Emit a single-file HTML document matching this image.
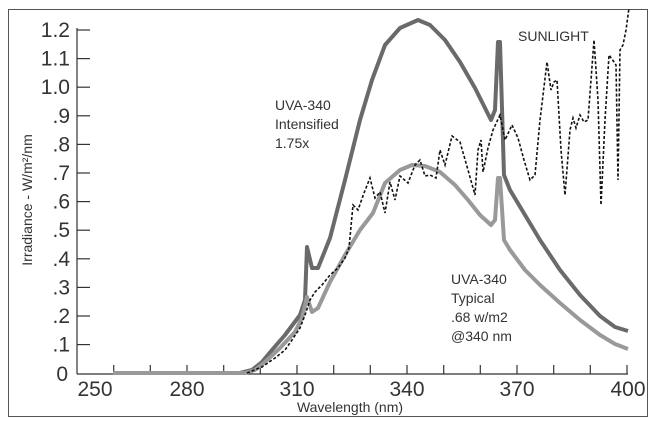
<!DOCTYPE html>
<html><head><style>
html,body{margin:0;padding:0;background:#fff;}
svg{display:block;}
text{font-family:"Liberation Sans",sans-serif;fill:#333;}
</style></head><body>
<svg width="660" height="427" viewBox="0 0 660 427" xmlns="http://www.w3.org/2000/svg">
<rect x="8.5" y="9.5" width="639" height="407" fill="#fff" stroke="#555" stroke-width="1"/>
<g stroke="#333" stroke-width="1.2" fill="none">
<line x1="77" y1="28" x2="77" y2="374"/>
<line x1="77" y1="374" x2="628" y2="374"/>
<line x1="77" y1="30" x2="90" y2="30"/><line x1="77" y1="58.6" x2="90" y2="58.6"/>
<line x1="77" y1="87.2" x2="90" y2="87.2"/><line x1="77" y1="115.8" x2="90" y2="115.8"/>
<line x1="77" y1="144.4" x2="90" y2="144.4"/><line x1="77" y1="173" x2="90" y2="173"/>
<line x1="77" y1="201.6" x2="90" y2="201.6"/><line x1="77" y1="230.2" x2="90" y2="230.2"/>
<line x1="77" y1="258.8" x2="90" y2="258.8"/><line x1="77" y1="287.4" x2="90" y2="287.4"/>
<line x1="77" y1="316" x2="90" y2="316"/><line x1="77" y1="344.6" x2="90" y2="344.6"/>
<line x1="113.7" y1="374" x2="113.7" y2="365"/><line x1="150.3" y1="374" x2="150.3" y2="365"/>
<line x1="187" y1="374" x2="187" y2="365"/><line x1="223.7" y1="374" x2="223.7" y2="365"/>
<line x1="260.3" y1="374" x2="260.3" y2="365"/><line x1="297" y1="374" x2="297" y2="365"/>
<line x1="333.7" y1="374" x2="333.7" y2="365"/><line x1="370.3" y1="374" x2="370.3" y2="365"/>
<line x1="407" y1="374" x2="407" y2="365"/><line x1="443.7" y1="374" x2="443.7" y2="365"/>
<line x1="480.3" y1="374" x2="480.3" y2="365"/><line x1="517" y1="374" x2="517" y2="365"/>
<line x1="553.7" y1="374" x2="553.7" y2="365"/><line x1="590.3" y1="374" x2="590.3" y2="365"/>
<line x1="627" y1="374" x2="627" y2="365"/>
</g>
<g font-size="21" text-anchor="end">
<text x="70" y="37">1.2</text><text x="70" y="65.6">1.1</text><text x="70" y="94.2">1.0</text>
<text x="70" y="122.8">.9</text><text x="70" y="151.4">.8</text><text x="70" y="180">.7</text>
<text x="70" y="208.6">.6</text><text x="70" y="237.2">.5</text><text x="70" y="265.8">.4</text>
<text x="70" y="294.4">.3</text><text x="70" y="323">.2</text><text x="70" y="351.6">.1</text>
<text x="68" y="381">0</text>
</g>
<g font-size="21" text-anchor="middle">
<text x="95" y="396">250</text><text x="187" y="396">280</text><text x="297" y="396">310</text>
<text x="407" y="396">340</text><text x="517" y="396">370</text><text x="628" y="396">400</text>
</g>
<text x="350" y="412" font-size="14" text-anchor="middle">Wavelength (nm)</text>
<text transform="translate(32,200) rotate(-90)" font-size="14" text-anchor="middle">Irradiance - W/m²/nm</text>
<text x="275" y="110" font-size="14">UVA-340</text>
<text x="275" y="129" font-size="14">Intensified</text>
<text x="275" y="148" font-size="14">1.75x</text>
<text x="518" y="41" font-size="14">SUNLIGHT</text>
<text x="451" y="284" font-size="14">UVA-340</text>
<text x="451" y="303" font-size="14">Typical</text>
<text x="451" y="322" font-size="14">.68 w/m2</text>
<text x="451" y="341" font-size="14">@340 nm</text>
<polyline fill="none" stroke="#6a6a6a" stroke-width="4" stroke-linejoin="round"
points="113,373 240,373 252,370 262,362 272,350 285,335 300,315 305,300 307,247 312,268 318,268 330,238 345,180 360,120 372,80 385,45 400,28 418,20 430,25 445,40 460,62 475,88 485,108 491,120 495,110 498,42 500,42 504,175 510,190 525,215 540,240 560,270 580,295 600,316 615,327 628,331"/>
<polyline fill="none" stroke="#999" stroke-width="4" stroke-linejoin="round"
points="113,373 245,373 255,370 265,362 280,348 295,332 302,318 307,297 312,312 318,308 330,282 345,255 360,230 373,213 385,183 400,170 412,165 425,166 440,172 455,185 468,200 480,215 491,225 495,220 498,178 500,178 504,240 510,250 525,270 540,285 560,303 580,320 600,335 615,344 628,349"/>
<polyline fill="none" stroke="#111" stroke-width="1.6" stroke-dasharray="3,2"
points="247,373 262,367 275,358 285,350 292,340 300,328 305,315 310,300 315,292 322,285 330,275 338,268 345,258 349,248 353,205 358,210 364,193 370,178 375,198 380,192 385,213 390,182 395,200 400,176 408,183 415,165 420,160 425,176 430,175 436,178 440,150 445,165 452,136 460,142 468,170 475,195 478,150 481,140 483,172 488,148 493,130 500,115 505,140 512,125 518,138 524,160 530,180 535,175 540,120 547,62 551,90 554,82 557,80 561,150 565,195 570,130 573,118 576,128 580,115 584,122 588,120 594,40 598,100 601,205 605,120 609,55 614,62 616,65 618,180 620,50 623,45 626,30 629,8"/>
</svg>
</body></html>
